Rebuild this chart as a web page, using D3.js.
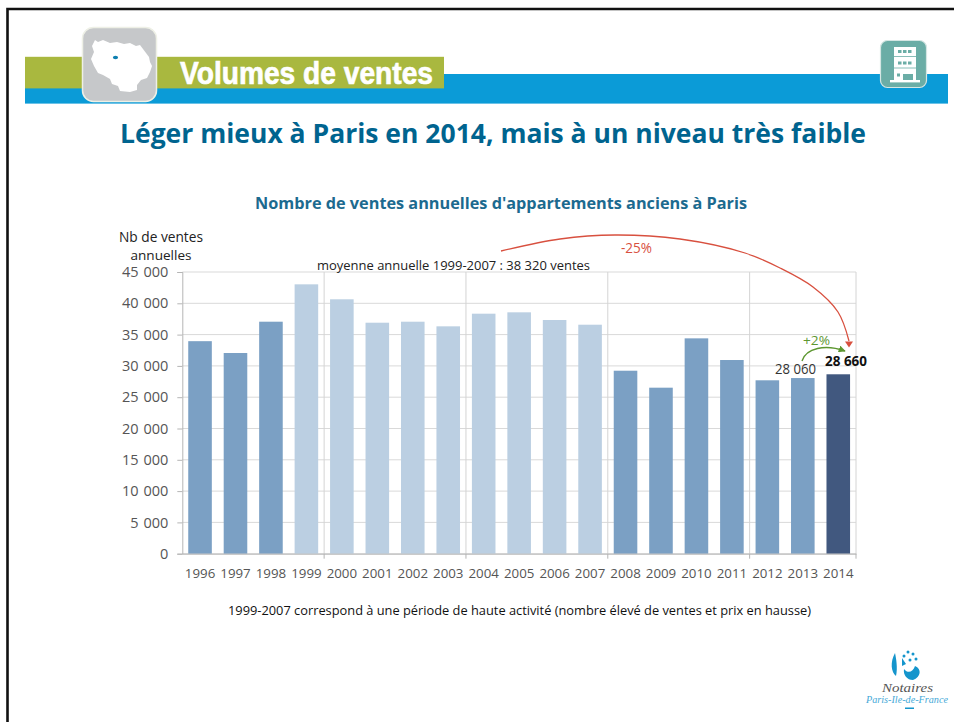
<!DOCTYPE html>
<html lang="fr"><head><meta charset="utf-8">
<script src="https://cdnjs.cloudflare.com/ajax/libs/d3/7.8.5/d3.min.js"></script>
<style>html,body{margin:0;padding:0;background:#fff}svg{display:block}text{font-family:"Open Sans",sans-serif}</style>
</head><body><svg id="c" width="954" height="722"></svg>
<script>
const years=["1996","1997","1998","1999","2000","2001","2002","2003","2004","2005","2006","2007","2008","2009","2010","2011","2012","2013","2014"];
const sales=[33950,32060,37060,43030,40640,36900,37060,36320,38340,38560,37330,36580,29230,26520,34400,30940,27700,28060,28660];
const yTicks=[0,5000,10000,15000,20000,25000,30000,35000,40000,45000];
const highPeriod=["1999","2000","2001","2002","2003","2004","2005","2006","2007"];
const highlightYear="2014";
const majorGridYears=["2000","2004","2008","2012"];

const svg=d3.select("#c");
const x=d3.scaleBand().domain(years).range([182.3,856]).paddingInner(0.335).paddingOuter(0.1675);
const y=d3.scaleLinear().domain([0,45000]).range([553.7,272]);
const fmt=v=>d3.format(",")(v).replace(/,/g," ");
const step=x.step();
const color=d=>d===highlightYear?"#41587f":highPeriod.includes(d)?"#bbcfe2":"#7ba0c4";

// slide frame
svg.append("path").attr("d","M7.5,722V9H954").attr("fill","none").attr("stroke","#111").attr("stroke-width",2.6);

// banner
svg.append("rect").attr("x",25).attr("y",74).attr("width",923).attr("height",29.6).attr("fill","#0b9bd7");
svg.append("rect").attr("x",25).attr("y",56.8).attr("width",419).attr("height",31.6).attr("fill","#a9b83f");
svg.append("rect").attr("x",82.5).attr("y",27.5).attr("width",74).attr("height",74).attr("rx",11).attr("fill","#c6c8ca").attr("stroke","#eef0e6").attr("stroke-width",1.5);
svg.append("path").attr("fill","#fff").attr("d","M95,40L98,42L103,40L110,43L117,42L124,44L130,43L136,46L140,45L146,53L149,57L150,62L152,66L150,72L147,78L141,80L137,85L137,90L130,92L120,91L118,86L112,84L110,79L103,75L98,73L94,66L91,59L94,52L92,46Z");
svg.append("ellipse").attr("cx",115.5).attr("cy",57.5).attr("rx",2.6).attr("ry",1.8).attr("fill","#0e7fb0");
svg.append("text").attr("x",180).attr("y",83.5).attr("textLength",253).attr("lengthAdjust","spacingAndGlyphs")
  .style("font-family","'Liberation Sans',sans-serif").style("font-weight",700).style("font-size","32px").attr("fill","#fff").attr("stroke","#fff").attr("stroke-width",.7).text("Volumes de ventes");

// building icon
svg.append("rect").attr("x",880.5).attr("y",40.5).attr("width",46).attr("height",47).attr("rx",7).attr("fill","#6bada6").attr("stroke","#d5e6e3").attr("stroke-width",1.2);
svg.append("rect").attr("x",894).attr("y",47).attr("width",22).attr("height",34).attr("fill","#fff");
svg.append("rect").attr("x",890).attr("y",80).attr("width",30).attr("height",2.4).attr("fill","#fff");
[56.5,68].forEach(v=>svg.append("line").attr("x1",894).attr("x2",916).attr("y1",v).attr("y2",v).attr("stroke","#6bada6").attr("stroke-width",.8));
[51.5,63].forEach(v=>[898,903,908].forEach(u=>svg.append("rect").attr("x",u).attr("y",v-1.5).attr("width",3.5).attr("height",3).attr("fill","#6bada6")));
svg.append("rect").attr("x",897).attr("y",73.5).attr("width",3).attr("height",3).attr("fill","#6bada6");
svg.append("rect").attr("x",903).attr("y",74).attr("width",10).attr("height",6).attr("fill","#6bada6");

// headings
svg.append("text").attr("x",493).attr("y",143).attr("text-anchor","middle").attr("textLength",746).attr("lengthAdjust","spacingAndGlyphs")
  .style("font-size","26.5px").style("font-weight",700).attr("fill","#00648f").text("Léger mieux à Paris en 2014, mais à un niveau très faible");
svg.append("text").attr("x",501).attr("y",209).attr("text-anchor","middle").attr("textLength",492).attr("lengthAdjust","spacingAndGlyphs")
  .style("font-size","16.5px").style("font-weight",700).attr("fill","#1c6a8f").text("Nombre de ventes annuelles d'appartements anciens à Paris");

// grid
const g=svg.append("g");
g.selectAll("line.h").data(yTicks).join("line").attr("class","h")
  .attr("x1",x.range()[0]).attr("x2",x.range()[1]).attr("y1",d=>y(d)).attr("y2",d=>y(d)).attr("stroke","#d9d9d9").attr("stroke-width",1);
g.selectAll("line.v").data(majorGridYears).join("line").attr("class","v")
  .attr("x1",d=>x(d)-(step-x.bandwidth())/2).attr("x2",d=>x(d)-(step-x.bandwidth())/2).attr("y1",y(45000)).attr("y2",y(0)).attr("stroke","#d4d4d4").attr("stroke-width",1);
g.append("line").attr("x1",x.range()[1]).attr("x2",x.range()[1]).attr("y1",y(45000)).attr("y2",y(0)).attr("stroke","#d4d4d4");

// bars
g.selectAll("rect.b").data(years).join("rect").attr("class","b")
  .attr("x",d=>x(d)).attr("width",x.bandwidth()).attr("y",(d,i)=>y(sales[i])).attr("height",(d,i)=>y(0)-y(sales[i])).attr("fill",color);

// axes
const yAxis=d3.axisLeft(y).tickValues(yTicks).tickFormat(fmt).tickSize(5).tickPadding(9);
const ya=svg.append("g").attr("transform",`translate(${x.range()[0]},0)`).call(yAxis);
const xAxis=d3.axisBottom(x).tickSize(0).tickPadding(15);
const xa=svg.append("g").attr("transform",`translate(0,${y(0)})`).call(xAxis);
[ya,xa].forEach(a=>{a.selectAll("path.domain,line").attr("stroke","#b5b5b5");a.selectAll("text").attr("fill","#555").style("font-family","'Open Sans',sans-serif");});
ya.selectAll("text").style("font-size","14.5px").style("word-spacing","1px");
xa.selectAll("text").style("font-size","13.3px");
xa.append("g").selectAll("line").data(majorGridYears.concat(["end"])).join("line")
  .attr("x1",d=>d==="end"?x.range()[1]:x(d)-(step-x.bandwidth())/2).attr("x2",d=>d==="end"?x.range()[1]:x(d)-(step-x.bandwidth())/2).attr("y1",0).attr("y2",5).attr("stroke","#b5b5b5");

// annotations
const t=(s,px,py,size,fill,weight,len)=>{const e=svg.append("text").attr("x",px).attr("y",py).style("font-size",size+"px").style("font-weight",weight||400).attr("fill",fill).text(s);if(len)e.attr("textLength",len).attr("lengthAdjust","spacingAndGlyphs");return e;};
t("Nb de ventes",119,242,13.6,"#222",400,84);
t("annuelles",130.5,259.5,13.2,"#222",400,61);
t("moyenne annuelle 1999-2007 : 38 320 ventes",317,270,12.4,"#222",400,273);
t("-25%",621,253,14,"#d8503f",500,31);
t("+2%",803,344.5,13.5,"#5d9731",500,27);
t("28 060",775,374,14,"#333",400,41);
t("28 660",825,366,13.5,"#111",700,42);

const red=[[501,251],[560,239],[615,235],[680,239],[745,253],[780,268],[813,287],[838,312],[849,341]];
const curve=d3.line().curve(d3.curveCatmullRom);
const defs=svg.append("defs");
[["gr","#5d9731"]].forEach(([id,c])=>defs.append("marker").attr("id",id).attr("viewBox","0 0 10 10").attr("refX",9).attr("refY",5).attr("markerUnits","userSpaceOnUse").attr("markerWidth",7).attr("markerHeight",7).attr("orient","auto").append("path").attr("d","M0,0L10,5L0,10Z").attr("fill",c));
svg.append("path").attr("d",curve(red)).attr("fill","none").attr("stroke","#d8503f").attr("stroke-width",1.3);
svg.append("path").attr("d","M845,341.5L853,341.5L849,347.5Z").attr("fill","#d8503f");
svg.append("path").attr("d","M802,361C806,348 825,344 845,351").attr("fill","none").attr("stroke","#5d9731").attr("stroke-width",1.4).attr("marker-end","url(#gr)");

// caption
svg.append("text").attr("x",519.5).attr("y",615).attr("text-anchor","middle").attr("textLength",583).attr("lengthAdjust","spacingAndGlyphs").style("font-size","12px").attr("fill","#111").text("1999-2007 correspond à une période de haute activité (nombre élevé de ventes et prix en hausse)");

// logo
svg.append("path").attr("fill","#1595cc").attr("d","M895,653C896,658 898,668 896,676C891,672 890,662 895,653ZM904,669C908,674 913,672 915,666C922,669 921,677 913,680C907,680 903,675 904,669ZM902,658L906,664L902,666Z");
[[908,652],[913,654],[916,659],[904,656],[910,660]].forEach(p=>svg.append("circle").attr("cx",p[0]).attr("cy",p[1]).attr("r",1.5).attr("fill","#1595cc"));
svg.append("text").attr("x",882).attr("y",692).attr("textLength",51).attr("lengthAdjust","spacingAndGlyphs").style("font-family","'Liberation Serif',serif").style("font-style","italic").style("font-size","13px").attr("fill","#555").text("Notaires");
svg.append("text").attr("x",866).attr("y",703).attr("textLength",82).attr("lengthAdjust","spacingAndGlyphs").style("font-family","'Liberation Serif',serif").style("font-style","italic").style("font-size","10.5px").attr("fill","#45a9d8").text("Paris-Ile-de-France");
svg.append("rect").attr("x",905).attr("y",707.5).attr("width",9).attr("height",1.5).attr("fill","#1595cc");
</script></body></html>
